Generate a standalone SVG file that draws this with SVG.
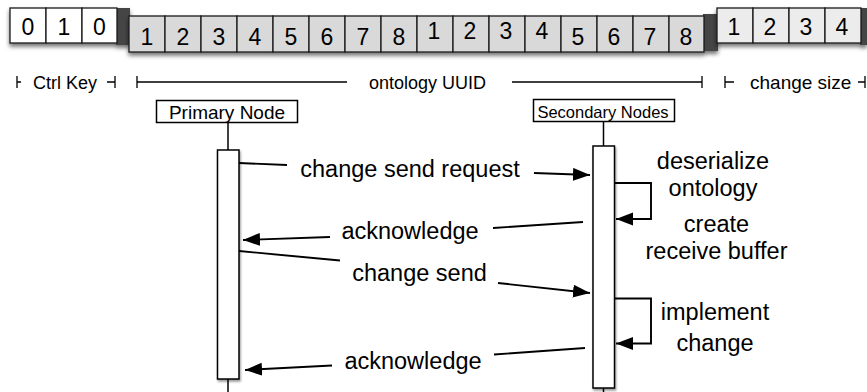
<svg xmlns="http://www.w3.org/2000/svg" width="867" height="392" viewBox="0 0 867 392">
<defs>
<filter id="sh" x="-20%" y="-30%" width="140%" height="180%">
<feDropShadow dx="0" dy="3" stdDeviation="2" flood-color="#000" flood-opacity="0.55"/>
</filter>
<filter id="sh2" x="-30%" y="-10%" width="160%" height="120%">
<feDropShadow dx="1" dy="2" stdDeviation="1.2" flood-color="#000" flood-opacity="0.4"/>
</filter>
<marker id="ah" markerUnits="userSpaceOnUse" markerWidth="18" markerHeight="14" refX="17" refY="6.5" orient="auto">
<path d="M0,0 L17,6.5 L0,13 Z" fill="#000"/>
</marker>
<style>
text{font-family:"Liberation Sans",Arial,Helvetica,sans-serif;fill:#000}
.cell{stroke:#1a1a1a;stroke-width:1.3}
.w{fill:#fff}.g{fill:#d9d9d9}.l{fill:#ececec}
.dark{fill:#444}
.dg{font-size:23px;text-anchor:middle}
.br{stroke:#000;stroke-width:1.3;fill:none}
.bl{font-size:18px}
.box{fill:#fff;stroke:#000;stroke-width:1.5}
.life{stroke:#000;stroke-width:1.5}
.msg{stroke:#000;stroke-width:1.9;fill:none}
.ml{font-size:23.5px;text-anchor:middle}
</style>
</defs>

<g id="ctrl-key-field" filter="url(#sh)">
<rect class="dark" x="116" y="8" width="14" height="37"/>
<rect class="cell w" x="10" y="8" width="36" height="35"/>
<rect class="cell w" x="46" y="8" width="36" height="35"/>
<rect class="cell w" x="82" y="8" width="35" height="35"/>
</g>
<g id="ctrl-key-digits">
<text class="dg" x="28" y="35">0</text>
<text class="dg" x="64" y="35">1</text>
<text class="dg" x="99.5" y="35">0</text>
</g>

<g id="uuid-field" filter="url(#sh)">
<rect class="dark" x="703" y="14" width="15" height="37"/>
<rect class="cell g" x="129" y="16" width="36" height="36"/>
<rect class="cell g" x="165" y="16" width="36" height="36"/>
<rect class="cell g" x="201" y="16" width="36" height="36"/>
<rect class="cell g" x="237" y="16" width="36" height="36"/>
<rect class="cell g" x="273" y="16" width="36" height="36"/>
<rect class="cell g" x="309" y="16" width="36" height="36"/>
<rect class="cell g" x="345" y="16" width="36" height="36"/>
<rect class="cell g" x="381" y="16" width="36" height="36"/>
<rect class="cell g" x="417" y="16" width="36" height="36"/>
<rect class="cell g" x="453" y="16" width="36" height="36"/>
<rect class="cell g" x="489" y="16" width="36" height="36"/>
<rect class="cell g" x="525" y="16" width="36" height="36"/>
<rect class="cell g" x="561" y="16" width="36" height="36"/>
<rect class="cell g" x="597" y="16" width="36" height="36"/>
<rect class="cell g" x="633" y="16" width="36" height="36"/>
<rect class="cell g" x="669" y="16" width="35" height="36"/>
</g>
<g id="uuid-digits">
<text class="dg" x="147" y="45">1</text>
<text class="dg" x="183" y="45">2</text>
<text class="dg" x="219" y="45">3</text>
<text class="dg" x="255" y="45">4</text>
<text class="dg" x="291" y="45">5</text>
<text class="dg" x="327" y="45">6</text>
<text class="dg" x="363" y="45">7</text>
<text class="dg" x="399" y="45">8</text>
<text class="dg" x="434" y="38.5">1</text>
<text class="dg" x="470" y="38.5">2</text>
<text class="dg" x="506" y="38.5">3</text>
<text class="dg" x="542" y="38.5">4</text>
<text class="dg" x="578" y="45">5</text>
<text class="dg" x="614" y="45">6</text>
<text class="dg" x="650" y="45">7</text>
<text class="dg" x="686" y="45">8</text>
</g>

<g id="change-size-field" filter="url(#sh)">
<rect class="dark" x="860" y="8" width="7" height="37"/>
<rect class="cell l" x="717" y="8" width="36" height="35"/>
<rect class="cell l" x="753" y="8" width="36" height="35"/>
<rect class="cell l" x="789" y="8" width="36" height="35"/>
<rect class="cell l" x="825" y="8" width="36" height="35"/>
</g>
<g id="change-size-digits">
<text class="dg" x="734" y="35">1</text>
<text class="dg" x="770" y="35">2</text>
<text class="dg" x="806" y="35">3</text>
<text class="dg" x="842" y="35">4</text>
</g>

<g id="field-brackets">
<path class="br" d="M17,76 V88 M17,82 H21 M107,82 H115 M115,76 V88 M137,76 V88 M137,82 H347 M512,82 H702 M702,76 V88 M725,76 V88 M725,82 H734 M858,82 H865 M865,76 V88"/>
<text class="bl" x="33" y="89">Ctrl Key</text>
<text class="bl" x="369" y="89">ontology UUID</text>
<text class="bl" x="750" y="89" style="font-size:19px">change size</text>
</g>

<g id="primary-node">
<line class="life" x1="228" y1="122" x2="228" y2="150"/>
<line class="life" x1="228" y1="379" x2="228" y2="392"/>
<rect class="box" x="156.5" y="100.5" width="141" height="22"/>
<text x="227" y="119" style="font-size:19px;text-anchor:middle">Primary Node</text>
<rect class="box" x="217.5" y="150" width="21.5" height="229" filter="url(#sh2)"/>
</g>

<g id="secondary-nodes">
<line class="life" x1="603.5" y1="121" x2="603.5" y2="146"/>
<line class="life" x1="603.5" y1="388" x2="603.5" y2="392"/>
<rect class="box" x="533.5" y="99.5" width="141" height="22"/>
<text x="603" y="118" style="font-size:16.5px;text-anchor:middle">Secondary Nodes</text>
<rect class="box" x="593" y="146" width="21.5" height="242" filter="url(#sh2)"/>
</g>

<g id="connectors">
<path class="msg" d="M239,163 L287,165"/>
<path class="msg" d="M534,173 L590,175" marker-end="url(#ah)"/>
<text class="ml" x="410" y="177">change send request</text>

<path class="msg" d="M615,183 H651 V219 H616" marker-end="url(#ah)"/>

<path class="msg" d="M583,222 L493,228"/>
<path class="msg" d="M330,237 L243,240" marker-end="url(#ah)"/>
<text class="ml" x="410" y="239">acknowledge</text>

<path class="msg" d="M239,251 L340,260.5"/>
<path class="msg" d="M498,283 L590,293" marker-end="url(#ah)"/>
<text class="ml" x="419.5" y="281">change send</text>

<path class="msg" d="M615,298.5 H651 V343.5 H616" marker-end="url(#ah)"/>

<path class="msg" d="M585,348 L494,354.5"/>
<path class="msg" d="M332,365.5 L245,370" marker-end="url(#ah)"/>
<text class="ml" x="413" y="368.5">acknowledge</text>
</g>

<g id="notes">
<text class="ml" x="713" y="169">deserialize</text>
<text class="ml" x="713" y="196">ontology</text>
<text class="ml" x="716.5" y="232">create</text>
<text class="ml" x="716.5" y="259">receive buffer</text>
<text class="ml" x="715" y="320">implement</text>
<text class="ml" x="715" y="351">change</text>
</g>
</svg>
